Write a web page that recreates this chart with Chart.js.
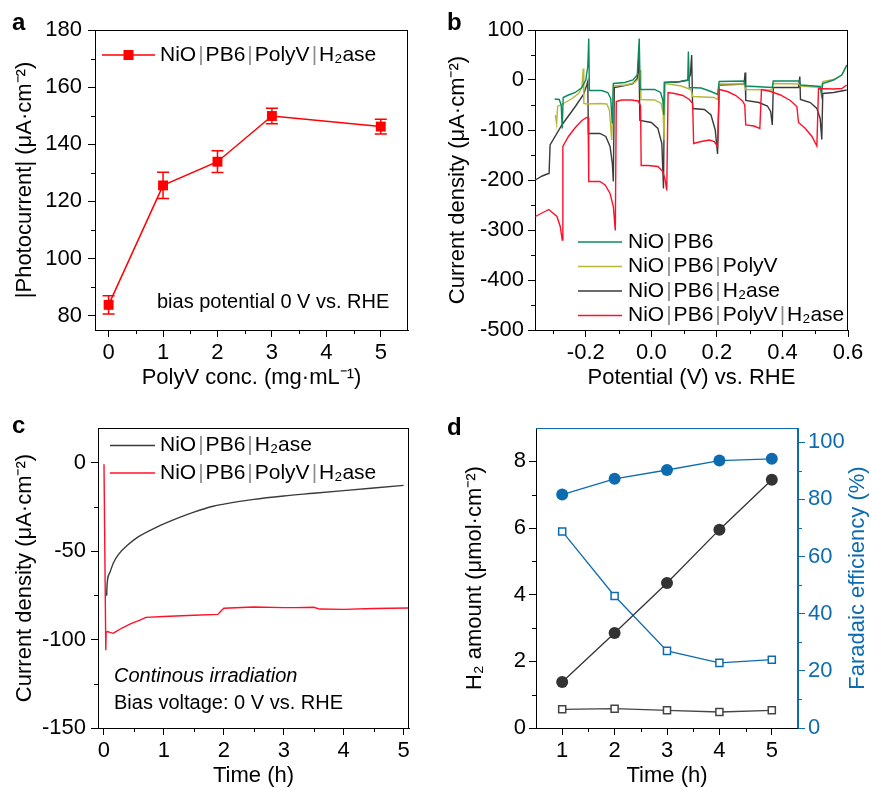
<!DOCTYPE html>
<html lang="en">
<head>
<meta charset="utf-8">
<title>NiO|PB6|PolyV|H2ase photocathodes</title>
<script src="https://cdn.jsdelivr.net/npm/chart.js@4.4.1/dist/chart.umd.min.js"></script>
<style>
  body { margin: 0; background: #fff; }
  #figura { position: relative; width: 871px; height: 788px; }
  #figura canvas { position: absolute; }
  .letra { position: absolute; font: bold 24px "Liberation Sans", Arial, sans-serif; line-height: 24px; }
</style>
</head>
<body>
<div id="figura">
  <canvas id="chartA" width="435" height="400" style="left:0;top:0"></canvas>
  <canvas id="chartB" width="436" height="400" style="left:435px;top:0"></canvas>
  <canvas id="chartC" width="435" height="388" style="left:0;top:400px"></canvas>
  <canvas id="chartD" width="436" height="388" style="left:435px;top:400px"></canvas>
  <div class="letra" style="left:12px;top:10px">a</div>
  <div class="letra" style="left:447px;top:10px">b</div>
  <div class="letra" style="left:12px;top:413px">c</div>
  <div class="letra" style="left:447px;top:415px">d</div>
</div>
<script>
// ======= Datos =======
// a: fotocorriente vs concentracion de PolyV
const concX = [0, 1, 2, 3, 5];
const photoY = [83.8, 125.6, 133.9, 149.9, 146.2];
const photoErr = [3.2, 4.6, 3.8, 2.7, 2.6];
const aXTicks = [0, 1, 2, 3, 4, 5];
const aYTicks = [80, 100, 120, 140, 160, 180];

// b: LSV con luz intermitente, pares [potencial V, densidad de corriente]
const lsvPB6 = [[-0.295,-38],[-0.281,-39],[-0.275,-50],[-0.272,-97],[-0.269,-35],[-0.253,-30],[-0.232,-25],[-0.212,-15],[-0.2,0],[-0.194,27],[-0.191,83],[-0.189,-21],[-0.152,-21],[-0.133,-25],[-0.124,-37],[-0.119,-87],[-0.116,-7],[-0.081,-5],[-0.056,0],[-0.043,10],[-0.037,83],[-0.034,-19],[0.01,-19],[0.028,-25],[0.035,-40],[0.038,-70],[0.04,-5],[0.091,-3],[0.111,-1],[0.113,57],[0.116,-15],[0.152,-16],[0.182,-23],[0.202,-29],[0.207,-3],[0.283,-2],[0.287,-12],[0.369,-15],[0.372,-2],[0.451,-2],[0.455,-10],[0.515,-13],[0.519,-30],[0.523,-7],[0.556,0],[0.581,10],[0.596,30]];
const lsvPolyV = [[-0.293,-70],[-0.289,-88],[-0.286,-53],[-0.268,-47],[-0.242,-37],[-0.222,-27],[-0.212,-15],[-0.208,23],[-0.206,-47],[-0.197,-48],[-0.157,-47],[-0.136,-48],[-0.128,-60],[-0.121,-120],[-0.116,-12],[-0.076,-10],[-0.051,-5],[-0.038,3],[-0.034,20],[-0.032,-39],[0.01,-40],[0.03,-47],[0.036,-67],[0.039,-120],[0.042,-7],[0.091,-12],[0.121,-19],[0.126,-33],[0.192,-35],[0.202,-39],[0.207,-8],[0.283,-8],[0.287,-19],[0.369,-20],[0.372,-7],[0.451,-8],[0.455,-12],[0.518,-15],[0.523,-3],[0.556,1],[0.581,10],[0.596,27]];
const lsvH2ase = [[-0.354,-200],[-0.333,-192],[-0.318,-188],[-0.312,-187],[-0.309,-130],[-0.273,-90],[-0.232,-53],[-0.207,-29],[-0.197,-10],[-0.194,-3],[-0.192,-107],[-0.157,-107],[-0.139,-113],[-0.126,-133],[-0.119,-167],[-0.116,-203],[-0.113,-15],[-0.081,-11],[-0.056,-7],[-0.043,3],[-0.038,47],[-0.035,-81],[0,-85],[0.02,-97],[0.032,-127],[0.037,-217],[0.04,-5],[0.081,-4],[0.111,0],[0.119,10],[0.123,50],[0.126,-57],[0.162,-59],[0.182,-70],[0.195,-100],[0.202,-148],[0.207,-10],[0.253,-9],[0.283,-8],[0.286,15],[0.288,-41],[0.328,-45],[0.354,-52],[0.364,-63],[0.369,-90],[0.372,-15],[0.414,-15],[0.449,-15],[0.453,7],[0.455,-39],[0.485,-45],[0.505,-57],[0.515,-77],[0.52,-119],[0.523,-27],[0.556,-25],[0.596,-20]];
const lsvFull = [[-0.354,-273],[-0.313,-259],[-0.288,-273],[-0.278,-293],[-0.272,-320],[-0.27,-133],[-0.253,-113],[-0.232,-95],[-0.212,-81],[-0.197,-75],[-0.193,-75],[-0.191,-203],[-0.157,-203],[-0.141,-210],[-0.126,-227],[-0.116,-253],[-0.11,-301],[-0.107,-43],[-0.091,-40],[-0.061,-40],[-0.04,-42],[-0.033,-52],[-0.031,-171],[-0.01,-171],[0.02,-173],[0.035,-183],[0.042,-200],[0.047,-221],[0.051,-25],[0.071,-27],[0.096,-31],[0.116,-39],[0.126,-47],[0.129,-127],[0.152,-123],[0.177,-120],[0.192,-123],[0.202,-133],[0.207,-19],[0.232,-23],[0.258,-31],[0.278,-42],[0.285,-50],[0.288,-90],[0.313,-92],[0.331,-97],[0.336,-19],[0.364,-23],[0.394,-30],[0.424,-41],[0.444,-53],[0.449,-85],[0.47,-97],[0.49,-113],[0.505,-132],[0.51,-17],[0.556,-18],[0.581,-17],[0.596,-10]];
const bXTicks = [-0.2, 0, 0.2, 0.4, 0.6];
const bYTicks = [100, 0, -100, -200, -300, -400, -500];

// c: electrolisis a potencial constante, pares [tiempo h, densidad de corriente]
const cpeH2ase = [[0.044,-75.3],[0.05,-70],[0.06,-66],[0.1,-62],[0.16,-56.5],[0.24,-52],[0.4,-46.5],[0.57,-42],[0.88,-36.5],[1.24,-31.3],[1.5,-28],[1.82,-24.7],[2,-23.5],[2.5,-20.8],[3,-18.9],[3.5,-17.4],[4,-15.9],[4.5,-14.4],[5,-12.9]];
const cpeFull = [[0,-1],[0.03,-106],[0.035,-96],[0.06,-95.5],[0.1,-96],[0.15,-96.5],[0.2,-95.5],[0.3,-93.5],[0.45,-91],[0.6,-89],[0.7,-87.5],[1,-87],[1.5,-86.3],[1.9,-85.8],[1.95,-84],[2,-82.3],[2.5,-81.6],[3,-82],[3.2,-82],[3.5,-81.8],[3.6,-82.8],[4,-83],[4.5,-82.5],[5.1,-82.2]];
const cXTicks = [0, 1, 2, 3, 4, 5];
const cYTicks = [0, -50, -100, -150];

// d: cantidad de H2 y eficiencia faradaica
const dTime = [1, 2, 3, 4, 5];
const h2PolyV = [1.38, 2.85, 4.35, 5.95, 7.45];
const h2NoPolyV = [0.56, 0.58, 0.53, 0.48, 0.53];
const fePolyV = [81.7, 87.2, 90.3, 93.6, 94.2];
const feNoPolyV = [68.8, 46.2, 27.0, 22.8, 23.9];
const dXTicks = [1, 2, 3, 4, 5];
const dYTicks = [0, 2, 4, 6, 8];
const dY2Ticks = [0, 20, 40, 60, 80, 100];

// ======= Estilo comun =======
const FUENTE = '"Liberation Sans", Arial, sans-serif';
Chart.defaults.font.family = FUENTE;
Chart.defaults.color = '#000';

const VERDE = '#0a8a5e', OLIVA = '#b7b83a', GRIS = '#3a3a3a', ROJO = '#ff1028', AZUL = '#0d6cb0';

const pares = arr => arr.map(p => ({ x: p[0], y: p[1] }));
const puntos = (xs, ys) => xs.map((x, i) => ({ x, y: ys[i] }));

function ejeX(min, max, marcas, titulo, alto, padTitulo, formato) {
    return {
        type: 'linear', min, max,
        afterBuildTicks: s => { s.ticks = marcas.map(v => ({ value: v })); },
        afterFit: s => { s.height = alto; },
        grid: { drawOnChartArea: false, tickLength: 7, color: '#000' },
        border: { color: '#000' },
        ticks: { font: { size: 22 }, padding: 3, maxRotation: 0, autoSkip: false, callback: formato || (v => String(v)) },
        title: { display: true, text: titulo, font: { size: 22 }, padding: { top: 0, bottom: padTitulo } }
    };
}

function ejeY(min, max, marcas, titulo, ancho, padTicks, padTitulo, color, pos) {
    color = color || '#000';
    return {
        type: 'linear', position: pos || 'left', min, max,
        afterBuildTicks: s => { s.ticks = marcas.map(v => ({ value: v })); },
        afterFit: s => { s.width = ancho; },
        grid: { drawOnChartArea: false, tickLength: 7, color },
        border: { color },
        ticks: { color, font: { size: 22 }, padding: padTicks, autoSkip: false, callback: v => String(v) },
        title: { display: !!titulo, text: titulo || '', color, font: { size: 22 }, padding: { top: padTitulo, bottom: 0 } }
    };
}

function opciones(padding, scales) {
    return {
        responsive: false,
        animation: false,
        layout: { padding },
        plugins: { legend: { display: false }, tooltip: { enabled: false } },
        scales
    };
}

// texto con separadores "|" en gris
function textoRico(ctx, texto, x, y, color) {
    texto.split('|').forEach((p, i) => {
        if (i > 0) {
            ctx.fillStyle = '#8c8c8c';
            x += 2;
            ctx.fillText('|', x, y);
            x += ctx.measureText('|').width + 2;
        }
        ctx.fillStyle = color;
        ctx.fillText(p, x, y);
        x += ctx.measureText(p).width;
    });
}

// ======= Plugin: marco, ticks menores, barras de error, leyenda, notas =======
function decor(cfg) {
    return {
        id: 'decor',
        beforeDatasetsDraw(chart) {
            if (!cfg.errores) return;
            const { ctx } = chart;
            const meta = chart.getDatasetMeta(0);
            const ys = chart.scales.y;
            ctx.save();
            ctx.strokeStyle = cfg.errores.color;
            ctx.lineWidth = 1.5;
            meta.data.forEach((pt, i) => {
                const v = chart.data.datasets[0].data[i].y;
                const e = cfg.errores.valores[i];
                const t = ys.getPixelForValue(v + e), b = ys.getPixelForValue(v - e);
                ctx.beginPath();
                ctx.moveTo(pt.x, t); ctx.lineTo(pt.x, b);
                ctx.moveTo(pt.x - 6, t); ctx.lineTo(pt.x + 6, t);
                ctx.moveTo(pt.x - 6, b); ctx.lineTo(pt.x + 6, b);
                ctx.stroke();
            });
            ctx.restore();
        },
        afterDraw(chart) {
            const { ctx, chartArea: a } = chart;
            ctx.save();
            ctx.lineWidth = 1;
            const linea = (x1, y1, x2, y2) => { ctx.beginPath(); ctx.moveTo(x1, y1); ctx.lineTo(x2, y2); ctx.stroke(); };

            // borde superior y derecho
            const top = Math.floor(a.top) + 0.5, right = Math.round(a.right) - 0.5;
            ctx.strokeStyle = cfg.colorMarco || '#000';
            linea(a.left, top, a.right, top);
            linea(right, a.top, right, a.bottom);

            // ticks menores
            Object.keys(cfg.menores || {}).forEach(id => {
                const s = chart.scales[id];
                ctx.strokeStyle = s.options.border.color;
                cfg.menores[id].forEach(v => {
                    const p = Math.round(s.getPixelForValue(v)) + 0.5;
                    if (s.isHorizontal()) linea(p, a.bottom, p, a.bottom + 4);
                    else if (s.position === 'left') linea(a.left - 4, p, a.left, p);
                    else linea(a.right, p, a.right + 4, p);
                });
            });

            // leyenda dentro del area
            const L = cfg.leyenda;
            if (L) {
                ctx.font = L.fuente;
                ctx.textBaseline = 'middle';
                ctx.textAlign = 'left';
                L.filas.forEach((di, i) => {
                    const ds = chart.data.datasets[di];
                    const x0 = a.left + L.x, y = a.top + L.y + i * L.dy;
                    ctx.strokeStyle = ds.borderColor;
                    ctx.lineWidth = ds.borderWidth;
                    linea(x0, y, x0 + L.largo, y);
                    if (L.marcador) {
                        ctx.fillStyle = ds.backgroundColor;
                        ctx.fillRect(x0 + L.largo / 2 - 5, y - 5, 10, 10);
                    }
                    textoRico(ctx, ds.label, x0 + L.largo + L.hueco, y, '#000');
                });
            }

            // notas de texto
            (cfg.notas || []).forEach(n => {
                ctx.save();
                ctx.font = n.fuente;
                ctx.fillStyle = n.color || '#000';
                ctx.textBaseline = 'middle';
                ctx.textAlign = n.rot ? 'center' : 'left';
                ctx.translate(a.left + n.x, a.top + n.y);
                if (n.rot) ctx.rotate(n.rot);
                ctx.fillText(n.texto, 0, 0);
                ctx.restore();
            });
            ctx.restore();
        }
    };
}

// ======= Panel a =======
new Chart(document.getElementById('chartA'), {
    type: 'line',
    data: {
        datasets: [{
            label: 'NiO|PB6|PolyV|H₂ase',
            data: puntos(concX, photoY),
            borderColor: '#ff0000', backgroundColor: '#ff0000', borderWidth: 1.5,
            pointStyle: 'rect', pointRadius: 7, pointBorderWidth: 0
        }]
    },
    options: opciones({ top: 30, right: 27, left: 0, bottom: 0 }, {
        x: ejeX(-0.25, 5.5, aXTicks, 'PolyV conc. (mg·mL⁻¹)', 70, 9),
        y: ejeY(75, 180, aYTicks, '|Photocurrent| (μA·cm⁻²)', 95, 6, 12)
    }),
    plugins: [decor({
        errores: { valores: photoErr, color: '#ff0000' },
        menores: { x: [0.5, 1.5, 2.5, 3.5, 4.5], y: [90, 110, 130, 150, 170] },
        leyenda: { x: 7, y: 25, dy: 0, largo: 53, hueco: 5, fuente: '21px ' + FUENTE, filas: [0], marcador: true },
        notas: [{ texto: 'bias potential 0 V vs. RHE', x: 62, y: 272, fuente: '20px ' + FUENTE }]
    })]
});

// ======= Panel b =======
const linea = (label, datos, color, orden) => ({
    label, data: pares(datos), borderColor: color, backgroundColor: color,
    borderWidth: 1.4, pointRadius: 0, order: orden
});

new Chart(document.getElementById('chartB'), {
    type: 'line',
    data: {
        datasets: [
            linea('NiO|PB6', lsvPB6, VERDE, 1),
            linea('NiO|PB6|PolyV', lsvPolyV, OLIVA, 2),
            linea('NiO|PB6|H₂ase', lsvH2ase, GRIS, 3),
            linea('NiO|PB6|PolyV|H₂ase', lsvFull, ROJO, 0)
        ]
    },
    options: opciones({ top: 30, right: 23, left: 0, bottom: 0 }, {
        x: ejeX(-0.355, 0.6, bXTicks, 'Potential (V) vs. RHE', 70, 9, v => v.toFixed(1)),
        y: ejeY(-500, 100, bYTicks, 'Current density (μA·cm⁻²)', 100, 4, 10)
    }),
    plugins: [decor({
        menores: { x: [-0.3, -0.1, 0.1, 0.3, 0.5], y: [50, -50, -150, -250, -350, -450] },
        leyenda: { x: 43, y: 212, dy: 24.5, largo: 44, hueco: 6, fuente: '21px ' + FUENTE, filas: [0, 1, 2, 3] }
    })]
});

// ======= Panel c =======
const curvaNegra = linea('NiO|PB6|H₂ase', cpeH2ase, GRIS, 1);
curvaNegra.cubicInterpolationMode = 'monotone';

new Chart(document.getElementById('chartC'), {
    type: 'line',
    data: {
        datasets: [
            curvaNegra,
            linea('NiO|PB6|PolyV|H₂ase', cpeFull, ROJO, 0)
        ]
    },
    options: opciones({ top: 28, right: 26, left: 0, bottom: 0 }, {
        x: ejeX(-0.1, 5.09, cXTicks, 'Time (h)', 60, -1),
        y: ejeY(-150, 19.5, cYTicks, 'Current density (μA·cm⁻²)', 98, 5, 12)
    }),
    plugins: [decor({
        menores: { x: [0.5, 1.5, 2.5, 3.5, 4.5], y: [-25, -75, -125] },
        leyenda: { x: 12, y: 17.5, dy: 27.5, largo: 45, hueco: 5, fuente: '21px ' + FUENTE, filas: [0, 1] },
        notas: [
            { texto: 'Continous irradiation', x: 16, y: 248.5, fuente: 'italic 20px ' + FUENTE },
            { texto: 'Bias voltage: 0 V vs. RHE', x: 16, y: 275, fuente: '20px ' + FUENTE }
        ]
    })]
});

// ======= Panel d =======
const serieD = (ys, eje, color, estilo) => ({
    data: puntos(dTime, ys), yAxisID: eje,
    borderColor: color, borderWidth: 1.3,
    pointStyle: estilo, pointRadius: estilo === 'circle' ? 6 : 5,
    pointBackgroundColor: estilo === 'circle' ? color : '#fff',
    pointBorderColor: color, pointBorderWidth: estilo === 'circle' ? 0 : 1.5
});

new Chart(document.getElementById('chartD'), {
    type: 'line',
    data: {
        datasets: [
            serieD(h2PolyV, 'y', '#333333', 'circle'),
            serieD(h2NoPolyV, 'y', '#444444', 'rect'),
            serieD(fePolyV, 'y2', AZUL, 'circle'),
            serieD(feNoPolyV, 'y2', AZUL, 'rect')
        ]
    },
    options: opciones({ top: 28, right: 0, left: 0, bottom: 0 }, {
        x: ejeX(0.5, 5.5, dXTicks, 'Time (h)', 60, -1),
        y: ejeY(0, 9, dYTicks, 'H₂ amount (μmol·cm⁻²)', 101, 3, 27),
        y2: ejeY(0, 105, dY2Ticks, '', 73, 3, 0, AZUL, 'right')
    }),
    plugins: [decor({
        colorMarco: AZUL,
        menores: { x: [1.5, 2.5, 3.5, 4.5], y: [1, 3, 5, 7], y2: [10, 30, 50, 70, 90] },
        notas: [{ texto: 'Faradaic efficiency (%)', x: 322, y: 150, rot: -Math.PI / 2, fuente: '22px ' + FUENTE, color: AZUL }]
    })]
});
</script>
</body>
</html>
